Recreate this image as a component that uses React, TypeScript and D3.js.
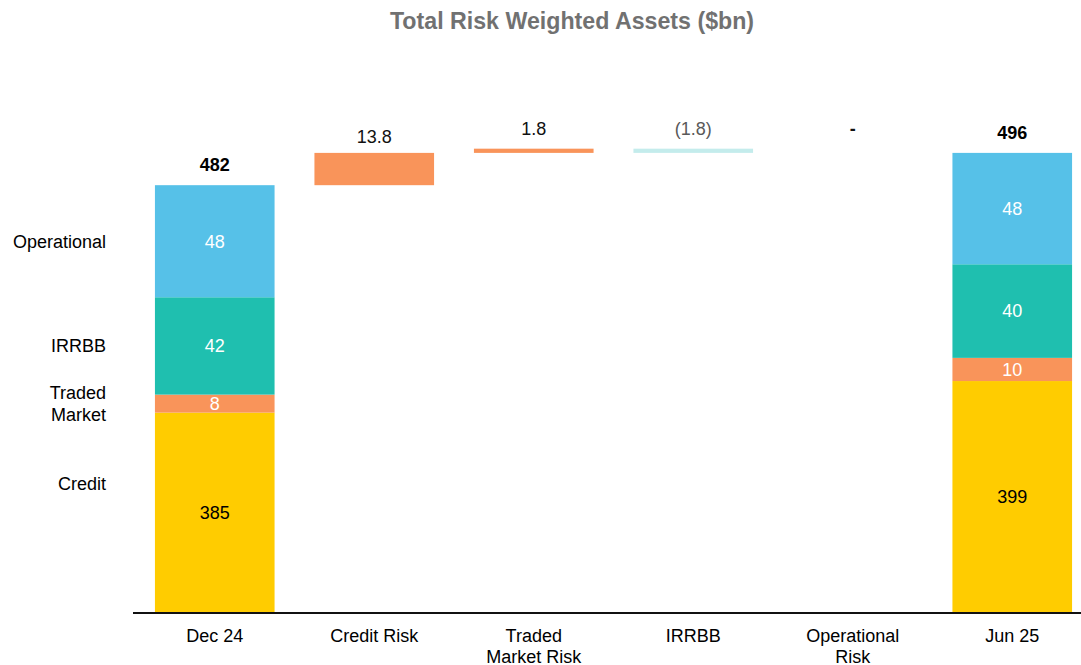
import React from 'react';
import * as d3 from 'd3';

// values in $bn
const categories = ['Dec 24', 'Credit Risk', 'Traded Market Risk', 'IRRBB', 'Operational Risk', 'Jun 25'];
const categoryLines = [['Dec 24'], ['Credit Risk'], ['Traded', 'Market Risk'], ['IRRBB'], ['Operational', 'Risk'], ['Jun 25']];
const riskTypes = ['Credit', 'Traded Market', 'IRRBB', 'Operational'];
const riskLabelLines = [['Credit'], ['Traded', 'Market'], ['IRRBB'], ['Operational']];
const dec24 = [385.2, 7.7, 41.6, 47.9];
const jun25 = [398.7, 9.9, 40.0, 47.6];
const movements = [13.8, 1.8, -1.8, 0];
const movementLabels = ['13.8', '1.8', '(1.8)', '-'];

const W = 1081, H = 665;
const colors: Record<string, string> = {
    'Credit': '#FFCC00',
    'Traded Market': '#F9945A',
    'IRRBB': '#1FBFAF',
    'Operational': '#56C1E8'
};
const font = 'Liberation Sans, Arial, sans-serif';

export default function App() {
    const x = d3.scaleBand<string>()
        .domain(categories)
        .range([135, 1092])
        .paddingInner(0.25)
        .paddingOuter(0.125);
    // axis is cut at 300 so the small risk types are readable
    const y = d3.scaleLinear().domain([300, 500]).range([612, 144]);

    const table = [
        {cat: 'Dec 24', ...Object.fromEntries(riskTypes.map((k, i) => [k, dec24[i]]))},
        {cat: 'Jun 25', ...Object.fromEntries(riskTypes.map((k, i) => [k, jun25[i]]))}
    ];
    const stacked = d3.stack<any>().keys(riskTypes)(table);
    stacked.forEach(s => s.forEach(p => { p[0] = Math.max(p[0], 300); }));

    const start = d3.sum(dec24);
    const levels = Array.from(d3.cumsum([start, ...movements]));
    const totals = [d3.sum(dec24), d3.sum(jun25)];
    const bw = x.bandwidth();
    const fmt = d3.format('.0f');

    let runMax = start;

    return (
        <svg width={W} height={H} style={{position: 'absolute', left: 0, top: 0}} fontFamily={font}>
            <text x={572} y={29} textAnchor="middle" fontSize={23.2} fontWeight="bold" fill="#717171">
                Total Risk Weighted Assets ($bn)
            </text>

            {stacked.map(s => s.map(p => {
                const cat = (p.data as any).cat;
                const y0 = y(p[0]), y1 = y(p[1]);
                const raw = (p.data as any)[s.key];
                return (
                    <g key={s.key + cat}>
                        <rect x={x(cat)} y={y1} width={bw} height={y0 - y1} fill={colors[s.key]}/>
                        <text x={x(cat)! + bw / 2} y={(y0 + y1) / 2} dy="0.35em" textAnchor="middle"
                              fontSize={18} fill={s.key === 'Credit' ? '#000' : '#fff'}>
                            {fmt(raw)}
                        </text>
                    </g>
                );
            }))}

            {['Dec 24', 'Jun 25'].map((c, i) => (
                <text key={c} x={x(c)! + bw / 2} y={y(totals[i]) - 14} textAnchor="middle"
                      fontSize={18} fontWeight="bold" fill="#000">
                    {fmt(totals[i])}
                </text>
            ))}

            {movements.map((m, i) => {
                const c = categories[i + 1];
                const a = levels[i], b = levels[i + 1];
                runMax = Math.max(runMax, a, b);
                const top = y(Math.max(a, b)), bot = y(Math.min(a, b));
                return (
                    <g key={c}>
                        {m !== 0 && <rect x={x(c)} y={top} width={bw} height={bot - top}
                                          fill={m > 0 ? colors['Traded Market'] : '#C4ECEC'}/>}
                        <text x={x(c)! + bw / 2} y={y(runMax) - (i === 0 ? 10 : 14)} textAnchor="middle" fontSize={18}
                              fontWeight={m === 0 ? 'bold' : 'normal'}
                              fill={m < 0 ? '#595959' : '#111'}>
                            {movementLabels[i]}
                        </text>
                    </g>
                );
            })}

            {riskTypes.map((k, i) => {
                const seg = stacked[i][0];
                let cy = (y(seg[0]) + y(seg[1])) / 2;
                if (k === 'Credit') cy -= 29;
                const lines = riskLabelLines[i];
                return (
                    <text key={k} x={106} textAnchor="end" fontSize={18} fill="#000">
                        {lines.map((l, j) => (
                            <tspan key={l} x={106} y={cy + (j - (lines.length - 1) / 2) * 22} dy="0.35em">{l}</tspan>
                        ))}
                    </text>
                );
            })}

            <line x1={133} x2={W} y1={613} y2={613} stroke="#111" strokeWidth={2}/>

            {categories.map((c, i) => (
                <text key={c} textAnchor="middle" fontSize={18} fill="#000">
                    {categoryLines[i].map((l, j) => (
                        <tspan key={l} x={x(c)! + bw / 2} y={642 + j * 21}>{l}</tspan>
                    ))}
                </text>
            ))}
        </svg>
    );
}
